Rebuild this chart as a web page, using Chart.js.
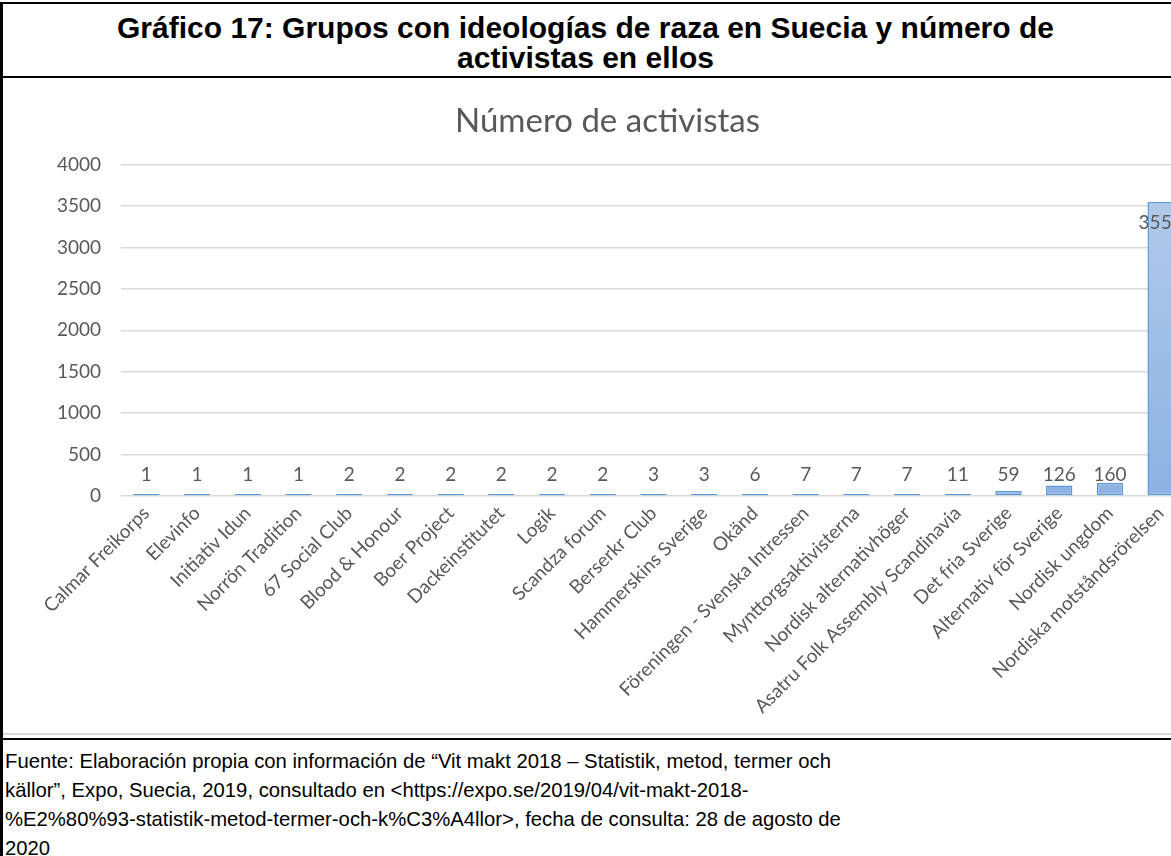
<!DOCTYPE html>
<html>
<head>
<meta charset="utf-8">
<script src="https://cdn.jsdelivr.net/npm/chart.js@4.4.1/dist/chart.umd.min.js"></script>
<style>
  body { margin: 0; width: 1171px; height: 856px; overflow: hidden; position: relative; background: #fff;
         font-family: "Liberation Sans", Arial, sans-serif; }
  .line { position: absolute; background: #000; }
  #heading { position: absolute; left: 0; top: 13px; width: 1171px; text-align: center;
             font-weight: bold; font-size: 30px; line-height: 30px; color: #000; }
  #chartBox { position: absolute; left: 3px; top: 78px; }
  #footer { position: absolute; left: 5px; top: 747px; font-size: 20.3px; line-height: 29px; color: #000; }
</style>
</head>
<body>
<div class="line" style="left:0;top:2px;width:1171px;height:2px"></div>
<div class="line" style="left:0;top:2px;width:3px;height:854px"></div>
<div id="heading">Gráfico 17: Grupos con ideologías de raza en Suecia y número de<br>activistas en ellos</div>
<div class="line" style="left:0;top:76px;width:1171px;height:2px"></div>
<div id="chartBox"><canvas id="chart" width="1197" height="656"></canvas></div>
<div class="line" style="left:3px;top:733px;width:1168px;height:2px;background:#d9d9d9"></div>
<div class="line" style="left:0;top:738px;width:1171px;height:2px"></div>
<div id="footer">Fuente: Elaboración propia con información de “Vit makt 2018 – Statistik, metod, termer och<br>källor”, Expo, Suecia, 2019, consultado en &lt;https://expo.se/2019/04/vit-makt-2018-<br>%E2%80%93-statistik-metod-termer-och-k%C3%A4llor&gt;, fecha de consulta: 28 de agosto de<br>2020</div>

<script>
// data
const groups = [
  "Calmar Freikorps", "Elevinfo", "Initiativ Idun", "Norrön Tradition", "67 Social Club",
  "Blood & Honour", "Boer Project", "Dackeinstitutet", "Logik", "Scandza forum",
  "Berserkr Club", "Hammerskins Sverige", "Okänd", "Föreningen - Svenska Intressen",
  "Mynttorgsaktivisterna", "Nordisk alternativhöger", "Asatru Folk Assembly Scandinavia",
  "Det fria Sverige", "Alternativ för Sverige", "Nordisk ungdom", "Nordiska motståndsrörelsen"
];
const activists = [1, 1, 1, 1, 2, 2, 2, 2, 2, 2, 3, 3, 6, 7, 7, 7, 11, 59, 126, 160, 3550];
const chartTitle = "Número de activistas";
const yMin = 0;
const yMax = 4000;
const yStep = 500;

const grey = "#595959";
const tickFont = { family: "Lato", size: 19 };

// value labels above the bars (inside for the tall one)
const barLabels = {
  id: "barLabels",
  afterDatasetsDraw(chart) {
    const ctx = chart.ctx;
    const meta = chart.getDatasetMeta(0);
    const base = chart.scales.y.getPixelForValue(0);
    ctx.save();
    ctx.font = "19px Lato";
    ctx.fillStyle = grey;
    ctx.textAlign = "center";
    ctx.textBaseline = "middle";
    meta.data.forEach((bar, i) => {
      const v = activists[i];
      let y;
      if (v > yMax / 2) y = bar.y + 21;
      else y = Math.min(bar.y, base - 13) - 8;
      ctx.fillText(String(v), bar.x, y);
    });
    ctx.restore();
  }
};

function barFill(context) {
  const chart = context.chart;
  const area = chart.chartArea;
  if (!area) return "#a6c1e6";
  const g = chart.ctx.createLinearGradient(0, area.top, 0, area.bottom);
  g.addColorStop(0, "#b5ccea");
  g.addColorStop(1, "#8db2e1");
  return g;
}

new Chart(document.getElementById("chart"), {
  type: "bar",
  data: {
    labels: groups,
    datasets: [{
      label: chartTitle,
      data: activists,
      backgroundColor: barFill,
      borderColor: "#5b9bd5",
      borderWidth: 1.5,
      borderSkipped: false,
      minBarLength: 2,
      categoryPercentage: 1,
      barPercentage: 0.52
    }]
  },
  options: {
    responsive: false,
    animation: false,
    layout: { padding: { left: 26, right: 14, top: 0, bottom: 0 } },
    plugins: {
      legend: { display: false },
      tooltip: { enabled: false },
      title: {
        display: true,
        text: chartTitle,
        color: grey,
        font: { family: "Lato", size: 33, weight: "normal" },
        padding: { top: 24, bottom: 23 }
      }
    },
    scales: {
      x: {
        grid: { display: false, drawTicks: false },
        border: { display: false },
        ticks: { color: grey, font: tickFont, autoSkip: false, minRotation: 45, maxRotation: 45, padding: 6 },
        afterFit(scale) { scale.height = 238; }
      },
      y: {
        min: yMin,
        max: yMax,
        ticks: { stepSize: yStep, color: grey, font: tickFont, padding: 20, callback: (v) => String(v) },
        grid: { color: "#d9d9d9", lineWidth: 1.5, drawTicks: false },
        border: { display: false },
        afterFit(scale) { scale.width = 92; }
      }
    }
  },
  plugins: [barLabels]
});
</script>
</body>
</html>
